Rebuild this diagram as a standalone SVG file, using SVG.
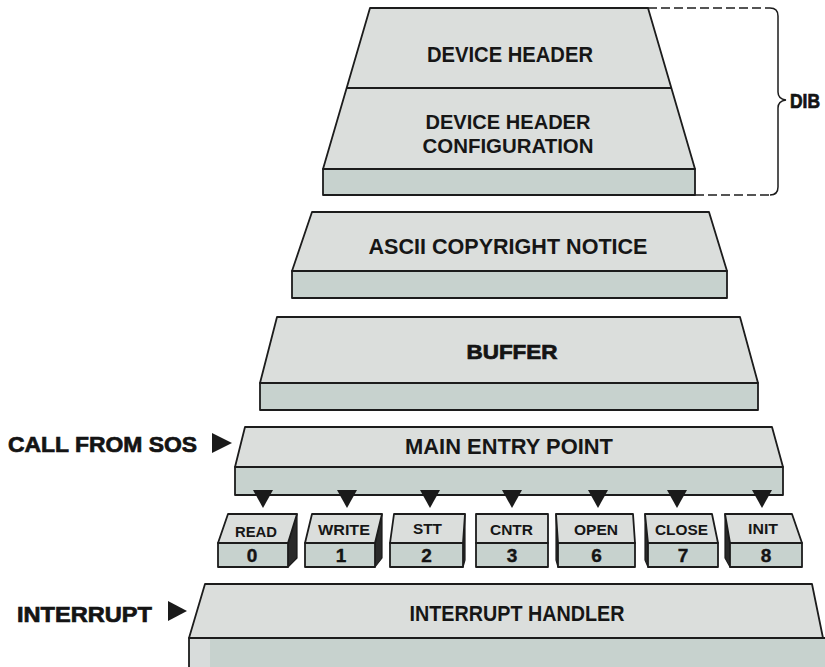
<svg xmlns="http://www.w3.org/2000/svg" width="825" height="667" viewBox="0 0 825 667">
<defs>
<style>
.top{fill:#dbdedc;stroke:#1c1c1c;stroke-width:1.8;stroke-linejoin:round}
.front{fill:#c7d2ce;stroke:#1c1c1c;stroke-width:1.8;stroke-linejoin:round}
.side{fill:#2a2a2a;stroke:#1c1c1c;stroke-width:1.2;stroke-linejoin:round}
.lbl{font-family:"Liberation Sans",Arial,sans-serif;font-weight:bold;font-size:22.5px;fill:#161616;text-anchor:middle}
.lbl2{font-family:"Liberation Sans",Arial,sans-serif;font-weight:bold;font-size:20.5px;fill:#161616;text-anchor:middle}
.heavy{font-family:"Liberation Sans",Arial,sans-serif;font-weight:bold;font-size:22px;fill:#141414;stroke:#141414;stroke-width:0.7;text-anchor:middle}
.btn{font-family:"Liberation Sans",Arial,sans-serif;font-weight:bold;font-size:15px;fill:#161616;text-anchor:middle}
.num{font-family:"Liberation Sans",Arial,sans-serif;font-weight:bold;font-size:19px;fill:#141414;stroke:#141414;stroke-width:0.4;text-anchor:middle}
.tri{fill:#1a1a1a}
.dash{fill:none;stroke:#1c1c1c;stroke-width:1.5;stroke-dasharray:9 4}
.brace{fill:none;stroke:#1c1c1c;stroke-width:1.5}
</style>
</defs>
<rect width="825" height="667" fill="#ffffff"/>

<g id="dib-block">
<polygon class="top" points="370,8 648,8 695,169 323,169"/>
<line x1="346.6" y1="88" x2="671.4" y2="88" stroke="#1c1c1c" stroke-width="1.8"/>
<rect class="front" x="323" y="169" width="372" height="26"/>
<text class="lbl" x="510" y="62" textLength="166" lengthAdjust="spacingAndGlyphs">DEVICE HEADER</text>
<text class="lbl2" x="508" y="129" textLength="165" lengthAdjust="spacingAndGlyphs">DEVICE HEADER</text>
<text class="lbl2" x="508" y="153" textLength="171" lengthAdjust="spacingAndGlyphs">CONFIGURATION</text>
</g>

<g id="dib-label">
<text class="heavy" x="805" y="108" textLength="30" lengthAdjust="spacingAndGlyphs" style="font-size:20px">DIB</text>
</g>

<g id="ascii-block">
<polygon class="top" points="312,212 709,212 727,271 292,271"/>
<rect class="front" x="292" y="271" width="435" height="27"/>
<text class="lbl" x="508" y="254" textLength="279" lengthAdjust="spacingAndGlyphs">ASCII COPYRIGHT NOTICE</text>
</g>

<g id="buffer-block">
<polygon class="top" points="277,317 740,317 758,383 260,383"/>
<rect class="front" x="260" y="383" width="498" height="27"/>
<text class="heavy" x="512" y="359" textLength="91" lengthAdjust="spacingAndGlyphs" style="font-size:20px">BUFFER</text>
</g>

<g id="main-entry-block">
<polygon class="top" points="245,427 772,427 783,467 235,467"/>
<rect class="front" x="235" y="467" width="548" height="28"/>
<text class="lbl" x="509" y="454" textLength="208" lengthAdjust="spacingAndGlyphs">MAIN ENTRY POINT</text>
</g>

<g id="call-from-sos">
<text class="heavy" x="102.5" y="452" textLength="189" lengthAdjust="spacingAndGlyphs">CALL FROM SOS</text>
</g>

<g id="btn-read">
<polygon class="side" points="288,543 297,514 297,558 288,567"/>
<polygon class="top" points="228,514 297,514 288,543 218,543"/>
<rect class="front" x="218" y="543" width="70" height="24"/>
<text class="btn" x="256" y="537" textLength="42" lengthAdjust="spacingAndGlyphs">READ</text>
<text class="num" x="252" y="562">0</text>
</g>

<g id="btn-write">
<polygon class="side" points="375,543 382,514 382,558 375,567"/>
<polygon class="top" points="312,514 382,514 375,543 305,543"/>
<rect class="front" x="305" y="543" width="70" height="24"/>
<text class="btn" x="344" y="535" textLength="52" lengthAdjust="spacingAndGlyphs">WRITE</text>
<text class="num" x="341" y="562">1</text>
</g>

<g id="btn-stt">
<polygon class="side" points="463,543 465,514 465,560 463,567"/>
<polygon class="top" points="394,514 465,514 463,543 390,543"/>
<rect class="front" x="390" y="543" width="73" height="24"/>
<text class="btn" x="427.5" y="534" textLength="29" lengthAdjust="spacingAndGlyphs">STT</text>
<text class="num" x="426.5" y="562">2</text>
</g>

<g id="btn-cntr">
<polygon class="top" points="476,514 548,514 548,543 476,543"/>
<rect class="front" x="476" y="543" width="72" height="24"/>
<text class="btn" x="511.5" y="535" textLength="43" lengthAdjust="spacingAndGlyphs">CNTR</text>
<text class="num" x="512" y="562">3</text>
</g>

<g id="btn-open">
<polygon class="side" points="556,514 558,543 558,567 556,560"/>
<polygon class="top" points="556,514 633,514 635,543 558,543"/>
<rect class="front" x="558" y="543" width="77" height="24"/>
<text class="btn" x="596" y="535" textLength="44" lengthAdjust="spacingAndGlyphs">OPEN</text>
<text class="num" x="596.5" y="562">6</text>
</g>

<g id="btn-close">
<polygon class="side" points="645,514 648,543 648,567 645,560"/>
<polygon class="top" points="645,514 712,514 718,543 648,543"/>
<rect class="front" x="648" y="543" width="70" height="24"/>
<text class="btn" x="681.5" y="535" textLength="53" lengthAdjust="spacingAndGlyphs">CLOSE</text>
<text class="num" x="683" y="562">7</text>
</g>

<g id="btn-init">
<polygon class="side" points="725,514 730,543 730,567 725,558"/>
<polygon class="top" points="725,514 792,514 802,543 730,543"/>
<rect class="front" x="730" y="543" width="72" height="24"/>
<text class="btn" x="763" y="534" textLength="30" lengthAdjust="spacingAndGlyphs">INIT</text>
<text class="num" x="766" y="562">8</text>
</g>

<g id="interrupt-handler-block">
<polygon class="top" points="205,584 812,584 823,638 189,638"/>
<rect class="front" x="189" y="638" width="640" height="40"/>
<rect x="190" y="639" width="20" height="30" fill="#d8dcdb"/>
<text class="lbl" x="517" y="621" textLength="215" lengthAdjust="spacingAndGlyphs">INTERRUPT HANDLER</text>
</g>

<g id="interrupt">
<text class="heavy" x="84.5" y="622" textLength="135" lengthAdjust="spacingAndGlyphs">INTERRUPT</text>
</g>

<g id="connectors">
<polygon class="tri" points="212,433 232,443 212,453"/>
<polygon class="tri" points="168,601 187,611 168,621"/>
<polygon class="tri" points="253,490 273,490 263,508"/>
<polygon class="tri" points="337,490 357,490 347,508"/>
<polygon class="tri" points="420,490 440,490 430,508"/>
<polygon class="tri" points="502,490 522,490 512,508"/>
<polygon class="tri" points="588,490 608,490 598,508"/>
<polygon class="tri" points="667,490 687,490 677,508"/>
<polygon class="tri" points="752,490 772,490 762,508"/>
<path class="dash" d="M648,8 H770"/>
<path class="dash" d="M695,195 H770"/>
<path class="brace" d="M770,8 Q778,8 778,16 V92 Q778,99 786,100 Q778,101 778,108 V187 Q778,195 770,195"/>
</g>
</svg>
